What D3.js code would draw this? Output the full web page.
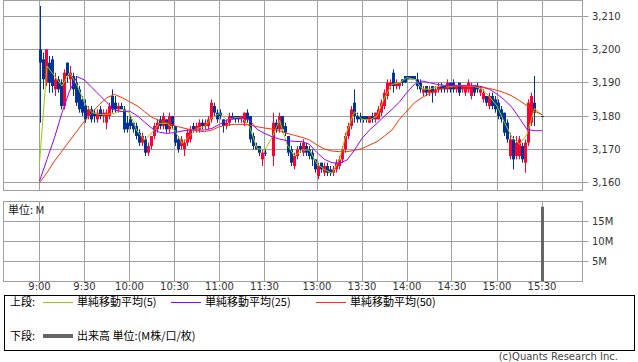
<!DOCTYPE html>
<html>
<head>
<meta charset="utf-8">
<script src="https://cdn.jsdelivr.net/npm/d3@7"></script>
<style>
  body { margin: 0; background: #fff; }
  svg { display: block; }
</style>
</head>
<body>
<div id="chart"></div>
<script>
// axis values
var priceTicks = [3160, 3170, 3180, 3190, 3200, 3210];
var volumeTicks = [5, 10, 15];
var timeLabels = ["9:00", "9:30", "10:00", "10:30", "11:00", "11:30", "13:00", "13:30", "14:00", "14:30", "15:00", "15:30"];

// 2-minute candles [open, high, low, close]
var amStart = "9:00";
var amCandles = [
  [3200,3213,3178,3196],[3197,3199,3188,3191],[3190,3200,3189,3200],[3196,3198,3187,3190],
  [3197,3198,3187,3189],[3188,3193,3186,3191],[3191,3192,3187,3188],[3190,3191,3182,3183],
  [3183,3194,3182,3193],[3196,3196,3190,3192],[3191,3195,3188,3193],[3192,3193,3186,3188],
  [3190,3192,3183,3184],[3188,3189,3181,3182],[3185,3186,3180,3181],[3183,3185,3178,3179],
  [3180,3183,3179,3182],[3182,3183,3178,3179],[3181,3182,3178,3180],[3179,3182,3178,3181],
  [3182,3183,3179,3180],[3180,3182,3178,3181],[3178,3182,3176,3181],[3180,3184,3179,3183],
  [3186,3188,3181,3182],[3184,3186,3181,3182],[3182,3184,3181,3183],[3183,3184,3182,3182],
  [3182,3183,3175,3176],[3178,3180,3175,3176],[3179,3180,3176,3177],[3178,3178,3175,3176],
  [3177,3178,3173,3174],[3175,3176,3171,3172],[3172,3175,3171,3174],[3173,3174,3168,3169],
  [3169,3172,3168,3171],[3171,3174,3170,3174],[3174,3178,3173,3177],[3176,3179,3175,3178],
  [3179,3180,3176,3177],[3177,3181,3176,3180],[3179,3179,3175,3176],[3176,3181,3175,3180],
  [3180,3180,3176,3177],[3177,3177,3171,3172],[3173,3174,3169,3170],[3171,3174,3170,3173],
  [3170,3173,3168,3172],[3172,3176,3171,3175],[3173,3177,3172,3176],[3177,3178,3175,3176],
  [3176,3178,3175,3177],[3176,3179,3175,3178],[3178,3179,3176,3177],[3177,3179,3176,3178],
  [3177,3180,3176,3179],[3179,3185,3178,3184],[3183,3184,3180,3181],[3181,3182,3178,3179],
  [3181,3182,3179,3180],[3179,3179,3175,3177],[3177,3179,3176,3178],[3178,3181,3177,3180],
  [3180,3181,3179,3179],[3180,3180,3178,3179],[3180,3180,3178,3179],[3179,3180,3178,3180],
  [3178,3181,3177,3181],[3181,3182,3178,3179],[3180,3180,3172,3173],[3174,3175,3170,3171],
  [3171,3172,3170,3170],[3171,3171,3168,3169],[3167,3170,3165,3169],[3169,3170,3168,3169]
];
var pmStart = "12:30";
var pmCandles = [
  [3168,3181,3165,3178],[3178,3179,3175,3176],[3176,3181,3175,3180],[3180,3180,3175,3176],
  [3177,3178,3174,3175],[3174,3174,3168,3169],[3170,3171,3165,3166],[3165,3169,3164,3168],
  [3168,3171,3167,3170],[3171,3172,3169,3170],[3169,3173,3168,3172],[3171,3172,3168,3169],
  [3170,3171,3167,3168],[3169,3170,3165,3167],[3167,3167,3163,3164],[3162,3166,3161,3165],
  [3166,3166,3163,3164],[3163,3166,3162,3165],[3165,3166,3162,3163],[3164,3165,3162,3163],
  [3163,3165,3162,3164],[3164,3167,3163,3166],[3165,3168,3164,3167],[3167,3171,3166,3170],
  [3170,3175,3169,3174],[3174,3178,3173,3177],[3177,3183,3176,3182],[3184,3188,3178,3180],
  [3180,3181,3178,3179],[3180,3181,3178,3179],[3180,3180,3178,3179],[3180,3180,3178,3179],
  [3178,3180,3178,3180],[3180,3181,3178,3179],[3179,3181,3178,3181],[3179,3183,3179,3182],
  [3181,3185,3180,3184],[3183,3188,3182,3187],[3186,3191,3185,3190],[3189,3191,3188,3190],
  [3193,3194,3187,3189],[3189,3191,3188,3190],[3189,3190,3188,3190],[3191,3191,3189,3190],
  [3192,3192,3190,3190],[3192,3192,3191,3191],[3192,3192,3191,3191],[3192,3192,3191,3191],
  [3191,3193,3188,3189],[3190,3191,3187,3188],[3187,3189,3186,3188],[3189,3189,3186,3187],
  [3187,3189,3186,3188],[3189,3189,3184,3187],[3187,3189,3186,3188],[3188,3190,3187,3189],
  [3189,3190,3187,3188],[3189,3189,3187,3188],[3188,3191,3187,3190],[3190,3190,3187,3188],
  [3190,3191,3187,3188],[3188,3189,3187,3189],[3190,3190,3186,3187],[3188,3189,3187,3189],
  [3187,3189,3186,3189],[3188,3191,3187,3190],[3186,3190,3185,3189],[3189,3189,3186,3187],
  [3189,3190,3187,3188],[3187,3189,3186,3188],[3185,3188,3184,3187],[3186,3186,3183,3184],
  [3183,3187,3182,3186],[3186,3187,3182,3183],[3185,3186,3181,3182],[3184,3185,3179,3180],
  [3182,3183,3178,3179],[3181,3181,3174,3175],[3178,3179,3172,3173],[3168,3175,3167,3173],
  [3173,3174,3164,3167],[3168,3174,3167,3172],[3168,3174,3167,3173],[3171,3172,3166,3167],
  [3166,3173,3163,3172],[3172,3185,3171,3184],[3178,3187,3177,3186],[3184,3192,3177,3181]
];
var closeTime = "15:30";
var closeCandle = [3180, 3180, 3180, 3180];

// moving averages, one value every 5 minutes
var ma5Am = [3166,3195,3192,3189,3193,3189.3,3184,3181,3180.5,3180.5,3180.8,3182,3181,3175.5,3172.8,3175,
  3177.8,3177.8,3175.8,3171.8,3174,3176.3,3176.8,3179.5,3180.8,3178.8,3179.5,3179.5,3176.8,3170.3,3169.7];
var ma5Pm = [3173.5,3178.8,3171.5,3168,3169.8,3169.8,3165.6,3164,3162.8,3167,3175.5,3181.3,3179,3178.8,3180,
  3185.5,3189.5,3190,3191.5,3191,3188.2,3188,3188.8,3189.2,3188.8,3189.2,3189,3188.8,3188.2,3185.8,3183,
  3178,3173.6,3171.5,3174.5,3182.3,3180.3];
var ma25Am = [3160.5,3167,3173.5,3181,3187.5,3191.8,3190.8,3188.5,3186.3,3184,3181.8,3181.3,3181.5,3180.1,
  3178.2,3176.3,3175.1,3174.8,3175,3175.5,3175.8,3175.8,3175.8,3176.3,3177.5,3178.8,3179.2,3179.5,3178.8,3176,3174.8];
var ma25Pm = [3173.8,3173.1,3172.6,3172.4,3172.3,3171.5,3169,3167,3166,3165.8,3166.8,3169.8,3173.3,3175.8,
  3177.8,3180,3182,3184.2,3187.1,3189.5,3190.5,3190,3189.5,3189.2,3189.2,3189.2,3189.2,3189.2,3188.8,3188,
  3186.6,3184.8,3182.6,3179.3,3176,3175.6,3175.6];
var ma50Am = [3160,3163,3166.5,3169.5,3172.5,3175.5,3178.5,3181,3183.5,3185.5,3186.5,3185.5,3184.3,3183.1,
  3181.3,3179.6,3178.6,3178,3177.1,3176.5,3176,3175.6,3175.3,3175.8,3176.8,3177.3,3177.5,3177.5,3177.3,3176.8,3176.4];
var ma50Pm = [3176.1,3175.6,3174.8,3174.2,3173.6,3172.8,3171.3,3170.1,3169.5,3169.3,3169.3,3169.7,3170.2,
  3171.3,3172.3,3174,3175.8,3179,3181.5,3184,3185.5,3186.8,3187.8,3188.4,3188.7,3189,3189,3188.9,3188.5,
  3188.3,3187.7,3187,3186,3184.6,3183.1,3181.5,3180.4];

// volume (M)
var volumeTimes = ["15:30"];
var volumeValues = [18.7];

window.addEventListener('DOMContentLoaded', function () {
  var width = 638, height = 362;
  var fontNum = "'DejaVu Sans', Verdana, sans-serif";
  var fontJp = "'Noto Sans CJK JP', 'Noto Sans', sans-serif";
  var gridColor = "#a0a0a0";
  var upColor = "#ff0033", downColor = "#003399";

  // minutes since 9:00, lunch break squeezed out
  function toSlot(hhmm) {
    var p = hhmm.split(":");
    var m = (+p[0]) * 60 + (+p[1]) - 540;
    return m > 150 ? m - 55 : m;
  }
  function addMinutes(hhmm, n) {
    var p = hhmm.split(":");
    var m = (+p[0]) * 60 + (+p[1]) + n;
    return Math.floor(m / 60) + ":" + d3.format("02")(m % 60);
  }

  var svg = d3.select("#chart")
    .append("svg")
    .attr("width", width)
    .attr("height", height);

  var x = d3.scaleLinear().domain([-24, 362]).range([3.5, 582.5]);
  var yPrice = d3.scaleLinear().domain([3160, 3210]).range([182.7, 16]);
  var yVol = d3.scaleLinear().domain([0, 20]).range([281.5, 201.5]);

  var top = { y0: 0.5, y1: 190.5 };
  var bottom = { y0: 201.5, y1: 281.5 };

  function crisp(v) { return Math.round(v - 0.5) + 0.5; }

  // grid lines for both panels
  [top, bottom].forEach(function (p) {
    svg.append("g").selectAll("line")
      .data(timeLabels)
      .enter()
      .append("line")
      .attr("x1", function (d) { return crisp(x(toSlot(d))); })
      .attr("x2", function (d) { return crisp(x(toSlot(d))); })
      .attr("y1", p.y0)
      .attr("y2", p.y1)
      .attr("stroke", gridColor);
  });

  svg.append("g").selectAll("line")
    .data(priceTicks)
    .enter()
    .append("line")
    .attr("x1", 3.5)
    .attr("x2", 588.5)
    .attr("y1", function (d) { return crisp(yPrice(d)); })
    .attr("y2", function (d) { return crisp(yPrice(d)); })
    .attr("stroke", gridColor);

  svg.append("g").selectAll("line")
    .data(volumeTicks)
    .enter()
    .append("line")
    .attr("x1", 3.5)
    .attr("x2", 588.5)
    .attr("y1", function (d) { return crisp(yVol(d)); })
    .attr("y2", function (d) { return crisp(yVol(d)); })
    .attr("stroke", gridColor);

  // panel frames
  [top, bottom].forEach(function (p) {
    svg.append("rect")
      .attr("x", 3.5)
      .attr("y", p.y0)
      .attr("width", 579)
      .attr("height", p.y1 - p.y0)
      .attr("fill", "none")
      .attr("stroke", gridColor);
  });

  // candles
  var candles = [];
  amCandles.forEach(function (c, i) {
    candles.push({ t: addMinutes(amStart, 2 * i), o: c[0], h: c[1], l: c[2], c: c[3], w: 2 });
  });
  pmCandles.forEach(function (c, i) {
    candles.push({ t: addMinutes(pmStart, 2 * i), o: c[0], h: c[1], l: c[2], c: c[3], w: 2 });
  });
  candles.push({ t: closeTime, o: closeCandle[0], h: closeCandle[1], l: closeCandle[2], c: closeCandle[3], w: 1 });

  svg.append("clipPath").attr("id", "clip-top")
    .append("rect").attr("x", 4).attr("y", 1).attr("width", 578).attr("height", 189);

  var plot = svg.append("g").attr("clip-path", "url(#clip-top)");

  function cx(d) { return x(toSlot(d.t) + d.w / 2 - 0.5); }
  function colorOf(d) { return d.c > d.o ? upColor : downColor; }

  plot.append("g").selectAll("line")
    .data(candles)
    .enter()
    .append("line")
    .attr("x1", function (d) { return Math.round(cx(d)) + 0.5; })
    .attr("x2", function (d) { return Math.round(cx(d)) + 0.5; })
    .attr("y1", function (d) { return yPrice(d.h); })
    .attr("y2", function (d) { return yPrice(d.l); })
    .attr("stroke", colorOf);

  plot.append("g").selectAll("rect")
    .data(candles)
    .enter()
    .append("rect")
    .attr("x", function (d) { return Math.round(cx(d)) - 1; })
    .attr("width", 3)
    .attr("y", function (d) { return yPrice(Math.max(d.o, d.c)); })
    .attr("height", function (d) { return Math.max(1, Math.abs(yPrice(d.o) - yPrice(d.c))); })
    .attr("fill", colorOf);

  // moving average lines
  function maPoints(am, pm) {
    var pts = [];
    am.forEach(function (v, i) { pts.push({ t: addMinutes(amStart, 5 * i), v: v }); });
    pm.forEach(function (v, i) { pts.push({ t: addMinutes(pmStart, 5 * i), v: v }); });
    return pts;
  }
  var line = d3.line()
    .x(function (d) { return x(toSlot(d.t)); })
    .y(function (d) { return yPrice(d.v); });

  var maSeries = [
    { pts: maPoints(ma5Am, ma5Pm), color: "#99cc00" },
    { pts: maPoints(ma25Am, ma25Pm), color: "#9900ff" },
    { pts: maPoints(ma50Am, ma50Pm), color: "#ff3300" }
  ];
  maSeries.forEach(function (s) {
    plot.append("path")
      .datum(s.pts)
      .attr("d", line)
      .attr("fill", "none")
      .attr("stroke", s.color)
      .attr("stroke-width", 1);
  });

  // volume bars
  svg.append("g").selectAll("rect")
    .data(volumeValues)
    .enter()
    .append("rect")
    .attr("x", function (d, i) { return Math.round(x(toSlot(volumeTimes[i]))) - 1; })
    .attr("width", 3)
    .attr("y", function (d) { return yVol(d); })
    .attr("height", function (d) { return yVol(0) - yVol(d); })
    .attr("fill", "#666");

  // axis labels
  svg.append("g").selectAll("text")
    .data(priceTicks)
    .enter()
    .append("text")
    .text(function (d) { return d3.format(",")(d); })
    .attr("x", 592)
    .attr("y", function (d) { return yPrice(d) + 3.5; })
    .attr("font-family", fontNum)
    .attr("font-size", "10px")
    .attr("fill", "#333");

  svg.append("g").selectAll("text")
    .data(volumeTicks)
    .enter()
    .append("text")
    .text(function (d) { return d + "M"; })
    .attr("x", 592)
    .attr("y", function (d) { return yVol(d) + 3.5; })
    .attr("font-family", fontNum)
    .attr("font-size", "10px")
    .attr("fill", "#333");

  svg.append("g").selectAll("text")
    .data(timeLabels)
    .enter()
    .append("text")
    .text(function (d) { return d; })
    .attr("x", function (d) { return x(toSlot(d)); })
    .attr("y", 290)
    .attr("text-anchor", "middle")
    .attr("font-family", fontNum)
    .attr("font-size", "10px")
    .attr("fill", "#333");

  svg.append("text")
    .text("単位: M")
    .attr("x", 8)
    .attr("y", 214)
    .attr("font-family", fontJp)
    .attr("font-size", "11px")
    .attr("fill", "#222");

  // legend box
  svg.append("rect")
    .attr("x", 4.5).attr("y", 295.5)
    .attr("width", 630).attr("height", 55)
    .attr("fill", "none").attr("stroke", "#000");

  var legend = svg.append("g")
    .attr("font-family", fontJp)
    .attr("font-size", "11px")
    .attr("fill", "#000");

  legend.append("text").text("上段:").attr("x", 10).attr("y", 306);
  var items = [
    { x: 43, label: "単純移動平均(5)", color: "#99cc00" },
    { x: 171, label: "単純移動平均(25)", color: "#9900ff" },
    { x: 316, label: "単純移動平均(50)", color: "#ff3300" }
  ];
  items.forEach(function (it) {
    legend.append("line")
      .attr("x1", it.x).attr("x2", it.x + 30)
      .attr("y1", 302.5).attr("y2", 302.5)
      .attr("stroke", it.color);
    legend.append("text").text(it.label).attr("x", it.x + 34).attr("y", 306);
  });

  legend.append("text").text("下段:").attr("x", 10).attr("y", 340);
  legend.append("line")
    .attr("x1", 43).attr("x2", 73)
    .attr("y1", 336).attr("y2", 336)
    .attr("stroke", "#666").attr("stroke-width", 4);
  legend.append("text").text("出来高 単位:(M株/口/枚)").attr("x", 77).attr("y", 340);

  svg.append("text")
    .text("(c)Quants Research Inc.")
    .attr("x", 618)
    .attr("y", 360)
    .attr("text-anchor", "end")
    .attr("font-family", fontNum)
    .attr("font-size", "10px")
    .attr("fill", "#444");
});
</script>
</body>
</html>
